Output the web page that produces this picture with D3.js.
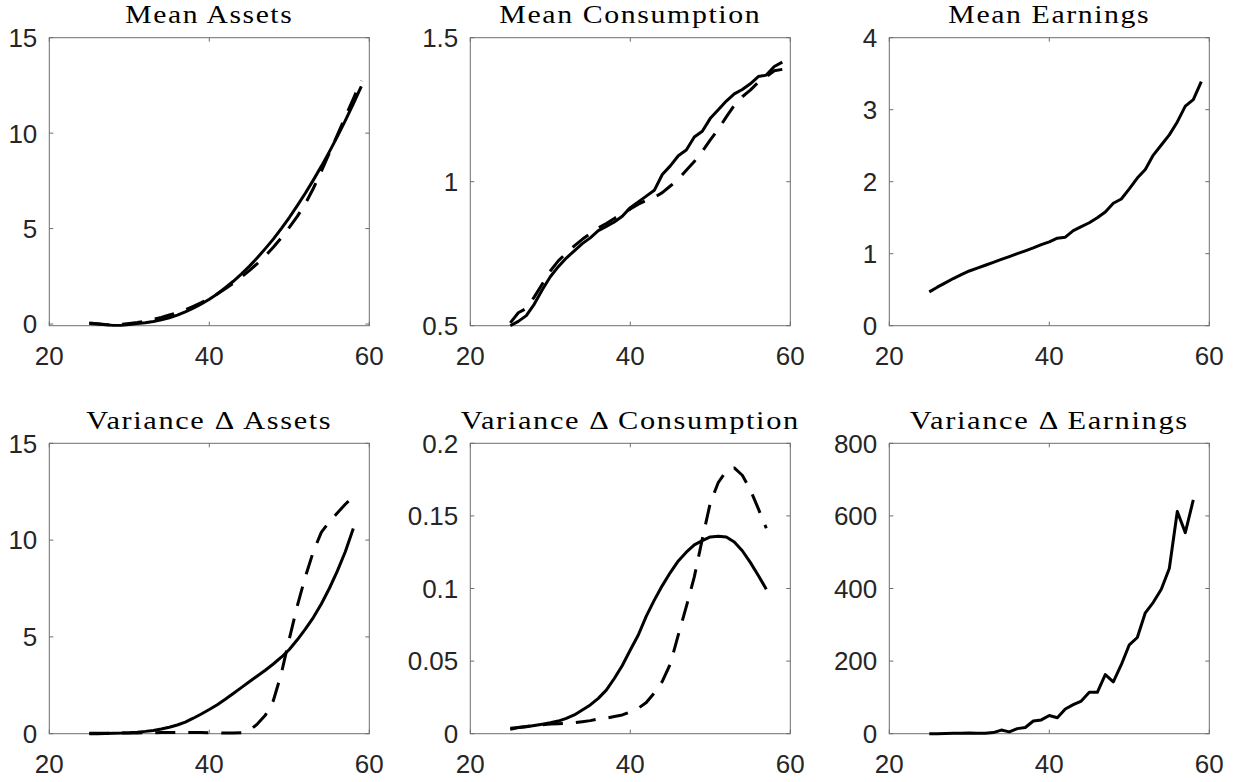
<!DOCTYPE html>
<html><head><meta charset="utf-8">
<script src="https://cdn.jsdelivr.net/npm/d3@7/dist/d3.min.js"></script>
<style>body{margin:0;background:#fff}</style>
</head><body>
<svg id="chart" width="1237" height="782"></svg>
<script>
// ---------- data ----------
const ages59 = [25,26,27,28,29,30,31,32,33,34,35,36,37,38,39,40,41,42,43,44,45,46,47,48,49,50,51,52,53,54,55,56,57,58,59];
const ages58 = [25,26,27,28,29,30,31,32,33,34,35,36,37,38,39,40,41,42,43,44,45,46,47,48,49,50,51,52,53,54,55,56,57,58];
const ages57 = [25,26,27,28,29,30,31,32,33,34,35,36,37,38,39,40,41,42,43,44,45,46,47,48,49,50,51,52,53,54,55,56,57];

const meanAssetsSolid  = [0.05,0.01,-0.04,-0.07,-0.06,-0.02,0.03,0.07,0.13,0.22,0.33,0.47,0.64,0.83,1.05,1.30,1.58,1.90,2.24,2.62,3.02,3.47,3.95,4.45,5.00,5.58,6.20,6.85,7.54,8.26,9.02,9.82,10.66,11.54,12.45];
const meanAssetsDashed = [0.03,0.0,-0.03,-0.04,-0.02,0.03,0.08,0.15,0.24,0.35,0.47,0.6,0.75,0.93,1.12,1.34,1.58,1.85,2.14,2.46,2.8,3.17,3.57,4.02,4.52,5.06,5.64,6.3,7.1,8.0,8.95,9.9,10.85,11.8,12.75];
const meanConsSolid    = [0.50,0.515,0.535,0.575,0.625,0.67,0.705,0.735,0.76,0.785,0.805,0.83,0.845,0.86,0.88,0.91,0.93,0.95,0.97,1.025,1.055,1.09,1.11,1.155,1.175,1.22,1.25,1.28,1.305,1.32,1.34,1.365,1.37,1.40,1.415];
const meanConsDashed   = [0.51,0.545,0.56,0.6,0.645,0.69,0.725,0.752,0.777,0.8,0.82,0.84,0.855,0.872,0.89,0.905,0.922,0.935,0.945,0.962,0.985,1.008,1.04,1.07,1.105,1.145,1.182,1.225,1.265,1.295,1.318,1.345,1.365,1.385,1.39];
const meanEarnings     = [0.47,0.535,0.595,0.655,0.71,0.76,0.80,0.84,0.88,0.92,0.96,1.0,1.04,1.08,1.125,1.165,1.215,1.23,1.32,1.375,1.43,1.5,1.58,1.70,1.76,1.9,2.05,2.17,2.37,2.51,2.65,2.83,3.05,3.14,3.39];
const varAssetsSolid   = [0.0,0.0,0.01,0.02,0.03,0.05,0.08,0.12,0.17,0.24,0.33,0.45,0.6,0.8,1.02,1.25,1.5,1.78,2.08,2.38,2.68,2.98,3.28,3.6,3.95,4.35,4.85,5.4,6.0,6.7,7.5,8.4,9.4,10.6];
const varAssetsDashed  = [0.02,0.02,0.02,0.03,0.03,0.04,0.04,0.05,0.05,0.06,0.06,0.06,0.06,0.06,0.06,0.05,0.04,0.03,0.03,0.05,0.15,0.5,0.95,1.7,3.1,4.9,6.6,8.1,9.4,10.4,10.95,11.4,11.85,12.25];
const varConsSolid     = [0.0037,0.0042,0.0048,0.0056,0.0065,0.0075,0.0087,0.0106,0.0129,0.0163,0.0198,0.0243,0.030,0.038,0.047,0.0576,0.068,0.081,0.092,0.102,0.111,0.119,0.125,0.130,0.133,0.1355,0.136,0.1355,0.132,0.126,0.118,0.109,0.0995];
const varConsDashed    = [0.003,0.0042,0.005,0.0057,0.0062,0.0066,0.0069,0.0072,0.0075,0.0082,0.009,0.0101,0.0107,0.0118,0.0129,0.015,0.0175,0.0215,0.028,0.036,0.048,0.068,0.0875,0.108,0.134,0.159,0.173,0.181,0.183,0.178,0.168,0.155,0.1415];
const varEarnings      = [0,0,0.5,1,1,2,1,1,3,10,5,14,17,35,38,50,44,68,80,90,114,114,163,143,190,245,265,333,362,398,455,612,554,644];

const titles = ["Mean Assets","Mean Consumption","Mean Earnings","Variance Δ Assets","Variance Δ Consumption","Variance Δ Earnings"];
const xTicks = [20,40,60];
const xTickLabels = ["20","40","60"];
const yTicks = [[0,5,10,15],[0.5,1,1.5],[0,1,2,3,4],[0,5,10,15],[0,0.05,0.1,0.15,0.2],[0,200,400,600,800]];
const yTickLabels = [["0","5","10","15"],["0.5","1","1.5"],["0","1","2","3","4"],["0","5","10","15"],["0","0.05","0.1","0.15","0.2"],["0","200","400","600","800"]];
const yDomains = [[-0.087,15],[0.5,1.5],[0,4],[0,15],[0,0.2],[0,800]];

// ---------- layout ----------
const lefts = [49.3, 470.3, 889.3];
const rowTop = [37.7, 443.3], rowBottom = [325.7, 733.7];
const plotW = 320;
const titleW = [168, 262, 202, 246, 339, 279];

const panels = [
  {series:[{x:ages59,y:meanAssetsSolid,dash:false},{x:ages59,y:meanAssetsDashed,dash:true}]},
  {series:[{x:ages59,y:meanConsSolid,dash:false},{x:ages59,y:meanConsDashed,dash:true}]},
  {series:[{x:ages59,y:meanEarnings,dash:false}]},
  {series:[{x:ages58,y:varAssetsSolid,dash:false},{x:ages58,y:varAssetsDashed,dash:true}]},
  {series:[{x:ages57,y:varConsSolid,dash:false},{x:ages57,y:varConsDashed,dash:true}]},
  {series:[{x:ages58,y:varEarnings,dash:false}]}
];

const svg = d3.select("#chart");
const axisColor = "#6e6e6e", textColor = "#262626";

panels.forEach((p,i)=>{
  const r = Math.floor(i/3), c = i%3;
  const L = lefts[c], T = rowTop[r], B = rowBottom[r], R = L + plotW;
  const x = d3.scaleLinear().domain([20,60]).range([L,R]);
  const y = d3.scaleLinear().domain(yDomains[i]).range([B,T]);
  const g = svg.append("g");

  // box
  g.append("rect").attr("x",L).attr("y",T).attr("width",R-L).attr("height",B-T)
    .attr("fill","none").attr("stroke",axisColor).attr("stroke-width",1);

  // x ticks (bottom & top, inward)
  xTicks.forEach((v,k)=>{
    const xx = x(v);
    g.append("line").attr("x1",xx).attr("x2",xx).attr("y1",B).attr("y2",B-4).attr("stroke",axisColor);
    g.append("line").attr("x1",xx).attr("x2",xx).attr("y1",T).attr("y2",T+4).attr("stroke",axisColor);
    g.append("text").attr("x",xx).attr("y",B+39).attr("text-anchor","middle")
      .attr("font-family","'Liberation Sans', Arial, sans-serif").attr("font-size",26)
      .attr("fill",textColor).text(xTickLabels[k]);
  });
  // y ticks (left & right, inward)
  yTicks[i].forEach((v,k)=>{
    const yy = y(v);
    g.append("line").attr("x1",L).attr("x2",L+4).attr("y1",yy).attr("y2",yy).attr("stroke",axisColor);
    g.append("line").attr("x1",R).attr("x2",R-4).attr("y1",yy).attr("y2",yy).attr("stroke",axisColor);
    g.append("text").attr("x",L-12).attr("y",yy).attr("dy","0.36em").attr("text-anchor","end")
      .attr("font-family","'Liberation Sans', Arial, sans-serif").attr("font-size",26)
      .attr("fill",textColor).text(yTickLabels[i][k]);
  });

  // title
  g.append("text").attr("x",(L+R)/2).attr("y",T-14.5).attr("text-anchor","middle")
    .attr("font-family","'Liberation Serif', 'Times New Roman', serif").attr("font-size",26)
    .attr("letter-spacing",1.4)
    .attr("textLength",titleW[i]).attr("lengthAdjust","spacingAndGlyphs")
    .attr("fill","#000").text(titles[i]);

  // lines
  p.series.forEach(s=>{
    const pts = s.x.map((a,j)=>[a,s.y[j]]);
    const line = d3.line().x(d=>x(d[0])).y(d=>y(d[1]));
    g.append("path").attr("d",line(pts)).attr("fill","none").attr("stroke","#000")
      .attr("stroke-width",3).attr("stroke-linejoin","round")
      .attr("stroke-dasharray", s.dash ? "20,13" : null);
  });
});
</script>
</body></html>
